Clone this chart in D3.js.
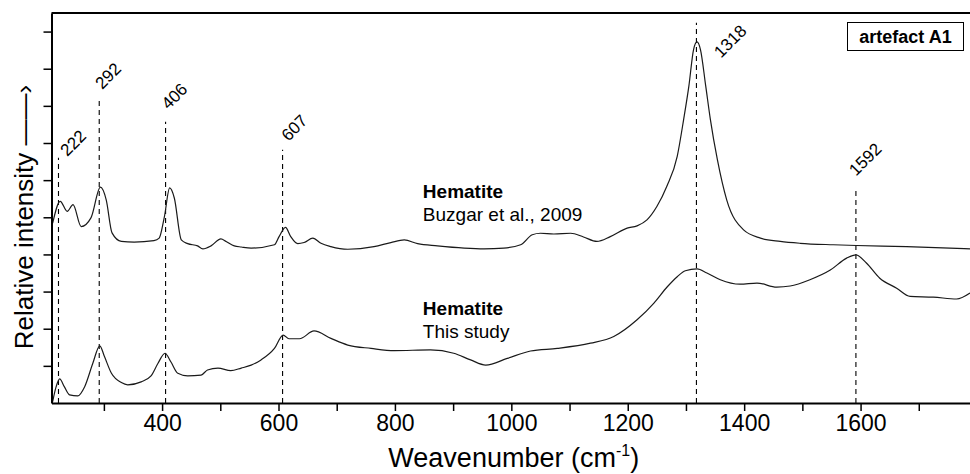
<!DOCTYPE html>
<html>
<head>
<meta charset="utf-8">
<script src="https://cdn.jsdelivr.net/npm/d3@7"></script>
<style>
  body { margin: 0; background: #fff; }
  text { font-family: "Liberation Sans", Arial, sans-serif; fill: #000; }
</style>
</head>
<body>
<div id="container"></div>
<script>
/* CONSTANTS AND GLOBALS */
const width = 970;
const height = 474;
const margin = { top: 13, right: 0, bottom: 71, left: 51.5 };

/* DATA */
// reference spectrum, Buzgar et al., 2009
const refWave = [212, 225, 237, 247, 261, 278, 294, 304, 314, 330, 352, 386, 395, 404, 413, 421, 433, 444, 461, 470,
  484, 501, 510, 524, 536, 553, 593, 601, 612, 621, 633, 644, 659, 673, 690, 719, 764, 793, 816, 839,
  873, 919, 953, 987, 1016, 1036, 1050, 1073, 1102, 1124, 1147, 1170, 1199, 1216, 1233, 1250, 1267, 1285, 1296, 1305,
  1313, 1319, 1325, 1334, 1342, 1354, 1370, 1399, 1428, 1462, 1496, 1553, 1593, 1679, 1788];
const refIntensity = [4.84, 5.43, 5.16, 5.34, 4.75, 4.99, 5.81, 5.47, 4.58, 4.35, 4.33, 4.37, 4.44, 5.02, 5.79, 5.52, 4.39, 4.29, 4.23, 4.15,
  4.23, 4.42, 4.35, 4.23, 4.20, 4.17, 4.26, 4.48, 4.73, 4.48, 4.29, 4.32, 4.44, 4.30, 4.21, 4.14, 4.21, 4.32, 4.39, 4.29,
  4.23, 4.17, 4.15, 4.17, 4.26, 4.53, 4.57, 4.55, 4.57, 4.47, 4.35, 4.48, 4.71, 4.77, 4.93, 5.29, 5.83, 6.64, 7.63, 8.53,
  9.51, 9.72, 9.51, 8.53, 7.63, 6.55, 5.47, 4.66, 4.44, 4.35, 4.30, 4.26, 4.24, 4.21, 4.15];

// this study
const sampleWave = [212, 218, 224, 232, 241, 255, 267, 281, 293, 301, 313, 330, 341, 364, 381, 393, 405, 415, 427, 444,
  467, 478, 496, 518, 536, 553, 570, 593, 608, 618, 636, 661, 690, 719, 759, 799, 861, 901, 930, 956,
  993, 1033, 1079, 1136, 1176, 1216, 1245, 1268, 1285, 1299, 1319, 1336, 1359, 1393, 1422, 1456, 1479, 1513, 1548, 1576,
  1592, 1610, 1633, 1662, 1685, 1725, 1765, 1788];
const sampleIntensity = [0.04, 0.44, 0.65, 0.44, 0.22, 0.19, 0.44, 1.07, 1.54, 1.25, 0.80, 0.55, 0.49, 0.57, 0.73, 1.07, 1.34, 1.11, 0.80, 0.73,
  0.75, 0.89, 0.94, 0.87, 0.94, 1.02, 1.16, 1.47, 1.83, 1.73, 1.73, 1.94, 1.74, 1.56, 1.47, 1.41, 1.43, 1.34, 1.16, 1.02,
  1.20, 1.40, 1.47, 1.61, 1.79, 2.24, 2.69, 3.13, 3.40, 3.56, 3.61, 3.50, 3.32, 3.20, 3.23, 3.12, 3.15, 3.32, 3.58, 3.90,
  3.99, 3.77, 3.36, 3.09, 2.87, 2.85, 2.80, 2.96];

// marked bands
const peaks = [222, 292, 406, 607, 1318, 1592];
const peakTops = [6.6, 8.17, 7.57, 6.82, 10.24, 5.71];
const peakLabelWave = [237, 297, 411, 617, 1360, 1592];
const peakLabelLevel = [6.62, 8.43, 7.88, 7.03, 9.27, 6.09];

// axes
const xTicks = [300, 400, 500, 600, 700, 800, 900, 1000, 1100, 1200, 1300, 1400, 1500, 1600, 1700];
const xTickLabels = [400, 600, 800, 1000, 1200, 1400, 1600];
const yTicks = [1, 2, 3, 4, 5, 6, 7, 8, 9, 10];

const refData = refWave.map((w, i) => ({ w, v: refIntensity[i] }));
const sampleData = sampleWave.map((w, i) => ({ w, v: sampleIntensity[i] }));

/* SCALES */
const bottom = height - margin.bottom; // 403

const xScale = d3.scaleLinear()
  .domain([210, 1788])
  .range([margin.left, width - margin.right]);

const yScale = d3.scaleLinear()
  .domain([0, 10.5])
  .range([bottom, margin.top]);

/* HTML ELEMENTS */
const svg = d3.select("#container")
  .append("svg")
  .attr("width", width)
  .attr("height", height);

// dashed band markers
svg.selectAll("line.peak")
  .data(peaks)
  .join("line")
  .attr("class", "peak")
  .attr("x1", d => xScale(d))
  .attr("x2", d => xScale(d))
  .attr("y1", bottom)
  .attr("y2", (d, i) => yScale(peakTops[i]))
  .attr("stroke", "#000")
  .attr("stroke-width", 1.1)
  .attr("stroke-dasharray", "5,4");

// band labels
svg.selectAll("text.peakLabel")
  .data(peaks)
  .join("text")
  .attr("class", "peakLabel")
  .attr("transform", (d, i) => `translate(${xScale(peakLabelWave[i])},${yScale(peakLabelLevel[i])}) rotate(-45)`)
  .style("font-size", "17px")
  .text(d => d);

// spectra
const line = d3.line()
  .x(d => xScale(d.w))
  .y(d => yScale(d.v))
  .curve(d3.curveMonotoneX);

svg.append("path")
  .datum(refData)
  .attr("d", line)
  .attr("fill", "none")
  .attr("stroke", "#1a1a1a")
  .attr("stroke-width", 1.2);

svg.append("path")
  .datum(sampleData)
  .attr("d", line)
  .attr("fill", "none")
  .attr("stroke", "#1a1a1a")
  .attr("stroke-width", 1.2);

// spectrum captions
const captions = [
  { w: 848, v: 5.52, bold: "Hematite", sub: "Buzgar et al., 2009" },
  { w: 848, v: 2.37, bold: "Hematite", sub: "This study" }
];
captions.forEach(c => {
  svg.append("text")
    .attr("x", xScale(c.w))
    .attr("y", yScale(c.v))
    .style("font-size", "19px")
    .style("font-weight", "bold")
    .text(c.bold);
  svg.append("text")
    .attr("x", xScale(c.w))
    .attr("y", yScale(c.v) + 23.5)
    .style("font-size", "19px")
    .text(c.sub);
});

// x-axis
const xAxis = d3.axisBottom(xScale)
  .tickValues(xTicks)
  .tickSize(8)
  .tickSizeOuter(0)
  .tickPadding(4)
  .tickFormat(d => xTickLabels.includes(d) ? d : "");
const gx = svg.append("g")
  .attr("class", "x-axis")
  .attr("transform", `translate(0,${bottom})`)
  .call(xAxis);
gx.select(".domain").attr("stroke-width", 2);
gx.selectAll(".tick line").attr("stroke-width", 1.5);
gx.selectAll("text").style("font-size", "23px").attr("fill", "#000");

// y-axis
const yAxis = d3.axisLeft(yScale)
  .tickValues(yTicks)
  .tickSize(8)
  .tickSizeOuter(0)
  .tickFormat("");
const gy = svg.append("g")
  .attr("class", "y-axis")
  .attr("transform", `translate(${margin.left},0)`)
  .call(yAxis);
gy.select(".domain").attr("stroke-width", 2);
gy.selectAll(".tick line").attr("stroke-width", 1.5);

// top frame
svg.append("line")
  .attr("x1", margin.left)
  .attr("x2", width)
  .attr("y1", margin.top)
  .attr("y2", margin.top)
  .attr("stroke", "#000")
  .attr("stroke-width", 2);

// x-axis title
const xt = svg.append("text")
  .attr("x", (margin.left + width) / 2 + 3)
  .attr("y", 467)
  .attr("text-anchor", "middle")
  .style("font-size", "27px");
xt.append("tspan").text("Weavenumber (cm");
xt.append("tspan").attr("dy", -11).style("font-size", "16px").text("-1");
xt.append("tspan").attr("dy", 11).text(")");

// y-axis title
svg.append("text")
  .attr("transform", `translate(33,217) rotate(-90)`)
  .attr("text-anchor", "middle")
  .style("font-size", "26px")
  .text("Relative intensity \u2014\u2014\u203A");

// sample box
svg.append("rect")
  .attr("x", 847.5)
  .attr("y", 22.5)
  .attr("width", 116)
  .attr("height", 28)
  .attr("fill", "#fff")
  .attr("stroke", "#000")
  .attr("stroke-width", 1);
svg.append("text")
  .attr("x", 905.5)
  .attr("y", 43)
  .attr("text-anchor", "middle")
  .style("font-size", "18px")
  .style("font-weight", "bold")
  .text("artefact A1");
</script>
</body>
</html>
